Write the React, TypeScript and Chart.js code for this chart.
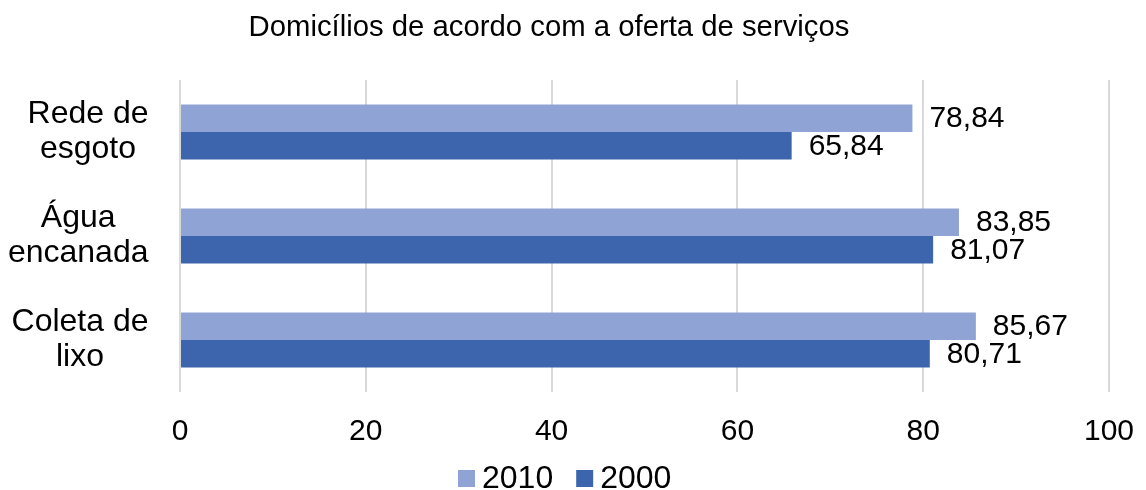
import React, { useEffect, useRef } from "react";
import { Chart, registerables } from "chart.js";

Chart.register(...registerables);

const categories: string[][] = [["Rede de", "esgoto"], ["Água", "encanada"], ["Coleta de", "lixo"]];
const seriesNames = ["2010", "2000"];
const values2010 = [78.84, 83.85, 85.67];
const values2000 = [65.84, 81.07, 80.71];
const xTicks = [0, 20, 40, 60, 80, 100];
const titleText = "Domicílios de acordo com a oferta de serviços";

const FONT = "'Liberation Sans', Arial, sans-serif";
const LIGHT = "#8FA3D5";
const DARK = "#3D65AD";

const fmt = (v: number) => v.toFixed(2).replace(".", ",");

const titlePlugin = {
  id: "customTitle",
  afterDraw(chart: any) {
    const ctx = chart.ctx;
    ctx.save();
    ctx.font = `29.3px ${FONT}`;
    ctx.fillStyle = "#000";
    ctx.textAlign = "center";
    ctx.textBaseline = "alphabetic";
    ctx.fillText(titleText, 549, 36);
    ctx.restore();
  },
};

// category labels: each block right-aligned to the axis, lines centred within the block
const yLabelPlugin = {
  id: "yLabels",
  afterDraw(chart: any) {
    const ctx = chart.ctx;
    const scale = chart.scales.y;
    ctx.save();
    ctx.font = `32px ${FONT}`;
    ctx.fillStyle = "#000";
    ctx.textAlign = "center";
    ctx.textBaseline = "middle";
    const labels = chart.data.labels as string[][];
    labels.forEach((lines, i) => {
      const c = scale.getPixelForTick(i);
      const w = Math.max(...lines.map((l) => ctx.measureText(l).width));
      const cx = scale.right - 31.5 - w / 2;
      lines.forEach((l, j) => {
        ctx.fillText(l, cx, c + (j - (lines.length - 1) / 2) * 35);
      });
    });
    ctx.restore();
  },
};

const legendPlugin = {
  id: "customLegend",
  afterDraw(chart: any) {
    const ctx = chart.ctx;
    ctx.save();
    ctx.font = `32px ${FONT}`;
    ctx.textAlign = "left";
    ctx.textBaseline = "alphabetic";
    let x = 458;
    const box = 17;
    chart.data.datasets.forEach((ds: any) => {
      ctx.fillStyle = ds.backgroundColor;
      ctx.fillRect(x, 470, box, box);
      const tx = x + box + 7;
      ctx.fillStyle = "#000";
      ctx.fillText(ds.label, tx, 488);
      x = tx + ctx.measureText(ds.label).width + 23;
    });
    ctx.restore();
  },
};

const labelPlugin = {
  id: "barLabels",
  afterDatasetsDraw(chart: any) {
    const ctx = chart.ctx;
    ctx.save();
    ctx.font = `30px ${FONT}`;
    ctx.fillStyle = "#000";
    ctx.textAlign = "left";
    ctx.textBaseline = "middle";
    chart.data.datasets.forEach((ds: any, di: number) => {
      const meta = chart.getDatasetMeta(di);
      meta.data.forEach((el: any, i: number) => {
        ctx.fillText(fmt(ds.data[i]), el.x + 17, el.y + 1);
      });
    });
    ctx.restore();
  },
};

export default function App() {
  const ref = useRef<HTMLCanvasElement | null>(null);
  useEffect(() => {
    document.body.style.margin = "0";
    document.body.style.overflow = "hidden";
    if (!ref.current) return;
    const chart = new Chart(ref.current, {
      type: "bar",
      data: {
        labels: categories,
        datasets: [
          { label: seriesNames[0], data: values2010, backgroundColor: LIGHT, borderWidth: 0 },
          { label: seriesNames[1], data: values2000, backgroundColor: DARK, borderWidth: 0 },
        ],
      },
      options: {
        indexAxis: "y",
        animation: false,
        responsive: false,
        maintainAspectRatio: false,
        layout: { padding: { top: 80, right: 37, bottom: 40, left: 0 } },
        datasets: { bar: { categoryPercentage: 0.53, barPercentage: 1 } },
        scales: {
          x: {
            min: 0,
            max: 100,
            afterBuildTicks: (scale: any) => {
              scale.ticks = xTicks.map((v) => ({ value: v }));
            },
            afterFit: (scale: any) => {
              scale.height = 58;
              scale.paddingLeft = 0;
              scale.paddingRight = 0;
            },
            ticks: { font: { size: 30, family: FONT }, color: "#000", padding: 22 },
            grid: { color: "#d9d9d9", lineWidth: 2, drawTicks: false },
            border: { display: false },
          },
          y: {
            afterFit: (scale: any) => {
              scale.width = 180;
              scale.paddingTop = 0;
              scale.paddingBottom = 0;
            },
            ticks: { display: false },
            grid: { display: false, drawTicks: false },
            border: { display: false },
          },
        },
        plugins: {
          legend: { display: false },
          title: { display: false },
          tooltip: { enabled: false },
        },
      },
      plugins: [titlePlugin, yLabelPlugin, labelPlugin, legendPlugin],
    });
    return () => chart.destroy();
  }, []);
  return (
    <div style={{ width: 1146, height: 490 }}>
      <canvas ref={ref} width={1146} height={490} style={{ display: "block" }} />
    </div>
  );
}
